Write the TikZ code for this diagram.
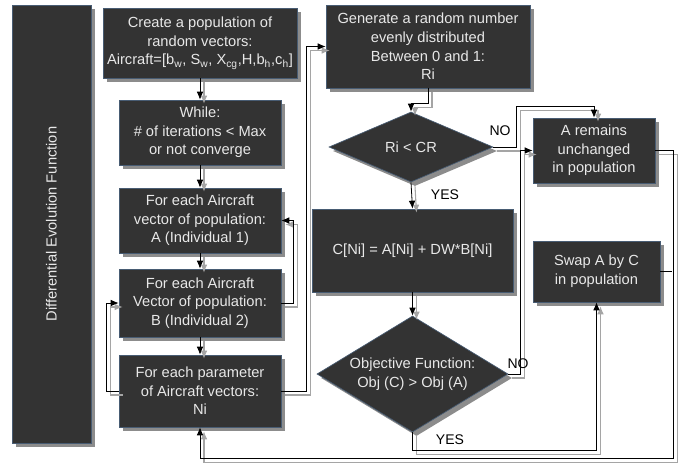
\documentclass[tikz,border=0pt]{standalone}
\usepackage{fontspec}
\setmainfont{Liberation Sans}
\usetikzlibrary{shapes.geometric,arrows.meta,shadows}
\definecolor{boxgray}{RGB}{51,51,51}
\definecolor{boxline}{RGB}{72,92,115}
\definecolor{shadegray}{RGB}{140,140,140}
\definecolor{linegray}{RGB}{165,165,165}
\definecolor{textwhite}{RGB}{232,232,232}
\begin{document}
\begin{tikzpicture}[x=0.75pt,y=-0.75pt,
	blk/.style 2 args={draw=boxline, line width=0.5pt, fill=boxgray, text=textwhite, align=center, inner sep=1pt,
		minimum width=#1*0.75pt, minimum height=#2*0.75pt,
		drop shadow={shadow xshift=3pt, shadow yshift=-3pt, fill=shadegray, opacity=1},
		font=\fontsize{11}{14}\selectfont},
	dec/.style 2 args={blk={#1}{#2}, shape=diamond, aspect=1.65, inner sep=0pt},
	conn/.style={line width=0.6pt, -{Latex[length=6pt,width=5pt]},
		preaction={draw=linegray, line width=0.8pt, transform canvas={xshift=3pt,yshift=-3pt}}},
	lbl/.style={font=\fontsize{10.5}{12}\selectfont}]
			\useasboundingbox (0,0) rectangle (683,468);

			\node[blk={79}{438}] (bar) at (51.5,224) {\rotatebox{90}{Differential Evolution Function}};

			\node[blk={194}{70}] (pop) at (200,43) {Create a population of\\random vectors:\\Aircraft=[b\textsubscript{w}, S\textsubscript{w}, X\textsubscript{cg},H,b\textsubscript{h},c\textsubscript{h}]};
			\node[blk={162}{65}] (loop) at (200,132.5) {While:\\\# of iterations < Max\\or not converge};
			\node[blk={162}{65}] (indA) at (200,220.5) {For each Aircraft\\vector of population:\\A (Individual 1)};
			\node[blk={162}{68}] (indB) at (200,303) {For each Aircraft\\Vector of population:\\B (Individual 2)};
			\node[blk={162}{72}] (param) at (200,391) {For each parameter\\of Aircraft vectors:\\Ni};

			\node[blk={204}{83}] (rand) at (428,46.5) {Generate a random number\\evenly distributed\\Between 0 and 1:\\Ri};
			\node[dec={164}{70}] (cross) at (411,147) {Ri < CR};
			\node[blk={201}{83}] (mix) at (412.5,250.5) {C[Ni] = A[Ni] + DW*B[Ni]};
			\node[dec={191}{116}] (obj) at (412.5,374) {Objective Function:\\Obj (C) > Obj (A)};

			\node[blk={122}{65}] (keep) at (594,150.5) {A remains\\unchanged\\in population};
			\node[blk={127}{61}] (swap) at (596.5,271.5) {Swap A by C\\in population};

			% left column
			\draw [conn] (pop) -- (loop);
			\draw [conn] (loop) -- (indA);
			\draw [conn] (indA) -- (indB);
			\draw [conn] (indB) -- (param);
			\draw [conn] (indB.east) -- ++(12,0) |- (indA.east);
			\draw [conn] (param.west) -- ++(-12,0) |- (indB.west);
			\draw [conn] (param.east) -- ++(25,0) |- (rand.west);

			% right part
			\draw [conn] (rand.south) -- ++(0,15) -| (cross.north);
			\draw [conn] (cross.south) -- (mix.north);
			\draw [conn] (mix.south) -- (obj.north);
			\draw [conn] (cross.east) -- ++(23,0) |- ([yshift=8.25pt]keep.north) -- (keep.north);
			\draw [conn] (obj.east) -- ++(12,0) |- (keep.west);
			\draw [conn] (obj.south) -- ++(0,18) -| (swap.south);
			\draw [conn] (keep.east) -- ++(18,0) |- ([yshift=-23.25pt]param.south) -- (param.south);
			\draw [line width=0.6pt] (swap.east) -- ++(12,0);

			\node[lbl] (no1) at (500,131) {NO};
			\node[lbl] (yes1) at (445,195) {YES};
			\node[lbl] (no2) at (518,364) {NO};
			\node[lbl] (yes2) at (450,440) {YES};
		\end{tikzpicture}
\end{document}
